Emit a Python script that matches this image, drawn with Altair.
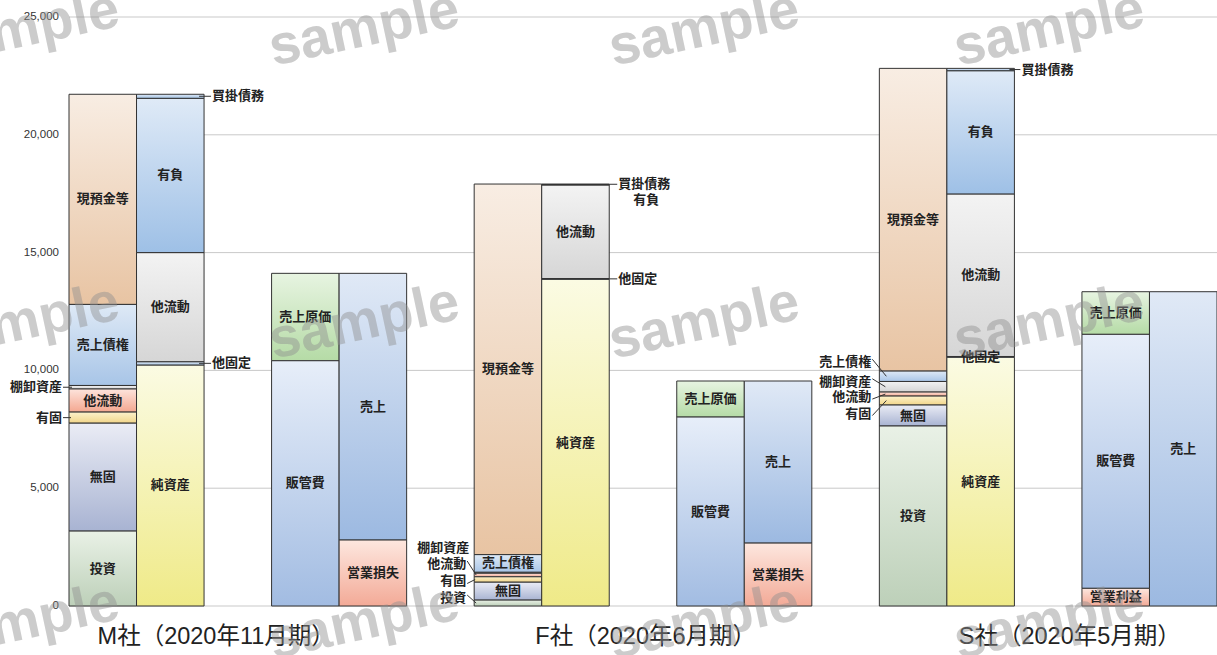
import altair as alt
import pandas as pd

# ---- figures (百万円) ----
ASSET_ITEMS = ["投資", "無固", "有固", "他流動", "棚卸資産", "売上債権", "現預金等"]
LIAB_ITEMS = ["純資産", "他固定", "他流動", "有負", "買掛債務"]

M_ASSETS = [3180, 4580, 470, 980, 150, 3440, 8920]
M_LIABS = [10230, 140, 4630, 6550, 170]
F_ASSETS = [250, 760, 230, 150, 40, 750, 15730]
F_LIABS = [13870, 30, 3970, 20, 20]
S_ASSETS = [7640, 890, 380, 170, 450, 440, 12850]
S_LIABS = [10560, 30, 6900, 5230, 100]

LOSS_COST_ITEMS = ["販管費", "売上原価"]
LOSS_REV_ITEMS = ["営業損失", "売上"]
PROFIT_COST_ITEMS = ["営業利益", "販管費", "売上原価"]
PROFIT_REV_ITEMS = ["売上"]

M_COSTS = [10410, 3710]
M_REVS = [2800, 11320]
F_COSTS = [8020, 1530]
F_REVS = [2670, 6880]
S_COSTS = [750, 10780, 1810]
S_REVS = [13340]

COMPANIES = ["M社（2020年11月期）", "F社（2020年6月期）", "S社（2020年5月期）"]
COMPANY_LABEL_X = [2.18, 8.54, 14.82]

Y_TICKS = [0, 5000, 10000, 15000, 20000, 25000]

# ---- layout ----
PLOT_W, PLOT_H = 1148, 589
X_MAX, Y_MAX = 17, 25000
PX_X = PLOT_W / X_MAX
U_Y = Y_MAX / PLOT_H

# (bar id, left slot, items, values, kind)
BARS = [
    ("M_BS_L", 0, ASSET_ITEMS, M_ASSETS, "A"),
    ("M_BS_R", 1, LIAB_ITEMS, M_LIABS, "L"),
    ("M_PL_L", 3, LOSS_COST_ITEMS, M_COSTS, "P"),
    ("M_PL_R", 4, LOSS_REV_ITEMS, M_REVS, "P"),
    ("F_BS_L", 6, ASSET_ITEMS, F_ASSETS, "A"),
    ("F_BS_R", 7, LIAB_ITEMS, F_LIABS, "L"),
    ("F_PL_L", 9, LOSS_COST_ITEMS, F_COSTS, "P"),
    ("F_PL_R", 10, LOSS_REV_ITEMS, F_REVS, "P"),
    ("S_BS_L", 12, ASSET_ITEMS, S_ASSETS, "A"),
    ("S_BS_R", 13, LIAB_ITEMS, S_LIABS, "L"),
    ("S_PL_L", 15, PROFIT_COST_ITEMS, S_COSTS, "P"),
    ("S_PL_R", 16, PROFIT_REV_ITEMS, S_REVS, "P"),
]

# call-out labels for thin segments: bar, item, dx px, dy px, leader, leader inset px
CALLOUTS = [
    ("M_BS_L", "有固", -7, 0, True, 2),
    ("M_BS_L", "棚卸資産", -7, 0, True, 3),
    ("M_BS_R", "他固定", 8, 0, True, 5),
    ("M_BS_R", "買掛債務", 8, 0, True, 5),
    ("F_BS_L", "投資", -8, -5, True, 2),
    ("F_BS_L", "有固", -8, 2, True, 1),
    ("F_BS_L", "他流動", -8, -11, True, 2),
    ("F_BS_L", "棚卸資産", -5, -25, False, 0),
    ("F_BS_R", "買掛債務", 9, 0, True, 0),
    ("F_BS_R", "有負", 24, 15, False, 0),
    ("F_BS_R", "他固定", 9, 0, True, 0),
    ("S_BS_L", "売上債権", -8, -14, True, 7),
    ("S_BS_L", "棚卸資産", -8, -5, True, 6),
    ("S_BS_L", "他流動", -8, 3, True, 6),
    ("S_BS_L", "有固", -8, 13, True, 7),
    ("S_BS_R", "買掛債務", 7, 0, True, 5),
]

GRADIENTS = {
    "現預金等": ("#f8ede3", "#e8c4a3"),
    "売上債権": ("#dee9f6", "#a8c5e7"),
    "棚卸資産": ("#f2f2f2", "#d4d4d4"),
    "他流動A": ("#fde4dc", "#f4a790"),
    "有固": ("#fcf2cc", "#f1d589"),
    "無固": ("#eaecf5", "#a8b3d2"),
    "投資": ("#e9f1e6", "#bdd0b9"),
    "純資産": ("#fbfbe3", "#efea88"),
    "他固定": ("#dfe9f5", "#a9c4e3"),
    "他流動L": ("#f3f3f3", "#d6d6d6"),
    "有負": ("#dfeaf7", "#9ec0e6"),
    "買掛債務": ("#dfeaf7", "#a3c3e6"),
    "売上原価": ("#e7f4e1", "#b5dba6"),
    "販管費": ("#e7eef9", "#a2bce2"),
    "売上": ("#e0e9f6", "#9cb9e1"),
    "営業損益": ("#fde7df", "#f3aa97"),
}


def fill_key(kind, item):
    if item == "他流動":
        return item + kind
    if item in ("営業損失", "営業利益"):
        return "営業損益"
    return item


seg_rows = []
for bar_id, x0, items, vals, kind in BARS:
    base = 0
    for it, v in zip(items, vals):
        seg_rows.append(dict(bar=bar_id, item=it, key=fill_key(kind, it),
                             x=x0, x2=x0 + 1, y=base, y2=base + v,
                             mid=base + v / 2))
        base += v
seg = pd.DataFrame(seg_rows)

outside = {(b, i) for b, i, *_ in CALLOUTS}
inside = seg[[(b, i) not in outside for b, i in zip(seg["bar"], seg["item"])]].copy()
inside["cx"] = inside["x"] + 0.5

lab_rows, lead_rows = [], []
for b, it, dx, dy, leader, inset in CALLOUTS:
    r = seg[(seg["bar"] == b) & (seg["item"] == it)].iloc[0]
    left = dx < 0
    edge = r["x"] if left else r["x2"]
    lx = edge + dx / PX_X
    ly = r["mid"] - dy * U_Y
    lab_rows.append(dict(text=it, x=lx, y=ly, align="right" if left else "left"))
    if leader:
        sy = dy - (3 if dy < 0 else (-2 if dy > 0 else 0))
        sx = dx + (1 if left else -1)
        lead_rows.append(dict(
            x=edge + sx / PX_X, y=r["mid"] - sy * U_Y,
            x2=edge + (inset if left else -inset) / PX_X, y2=r["mid"]))
labels = pd.DataFrame(lab_rows)
leaders = pd.DataFrame(lead_rows)

companies = pd.DataFrame(dict(name=COMPANIES, x=COMPANY_LABEL_X,
                              y=[-31 * U_Y] * 3))

# value gridlines and their labels (drawn as marks on the shared scales)
ticks = pd.DataFrame(dict(v=Y_TICKS, x=0, x2=X_MAX, lx=-10 / PX_X,
                          label=[f"{v:,}" for v in Y_TICKS]))

xs = alt.Scale(domain=[0, X_MAX], nice=False, zero=False)
ys = alt.Scale(domain=[0, Y_MAX], nice=False)


def xq(field):
    return alt.X(field, type="quantitative", scale=xs, axis=None)


def yq(field):
    return alt.Y(field, type="quantitative", scale=ys, axis=None)


TEXT_FONT = "Noto Sans CJK JP"

grid = alt.Chart(ticks).mark_rule(color="#c9c9c9", strokeWidth=1).encode(
    x=xq("x"), x2="x2:Q", y=yq("v"))
tick_labels = alt.Chart(ticks).mark_text(
    font="Liberation Sans", fontSize=11.5, color="#333333",
    align="right", baseline="middle"
).encode(x=xq("lx"), y=yq("v"), text="label:N")

layers = []
for key, (top, bottom) in GRADIENTS.items():
    grad = alt.LinearGradient(
        gradient="linear", x1=0, y1=0, x2=0, y2=1,
        stops=[alt.GradientStop(color=top, offset=0),
               alt.GradientStop(color=bottom, offset=1)])
    layers.append(
        alt.Chart(seg[seg["key"] == key]).mark_rect(
            fill=grad, stroke="#333333", strokeWidth=1
        ).encode(x=xq("x"), x2="x2:Q", y=yq("y"), y2="y2:Q")
    )

inside_text = alt.Chart(inside).mark_text(
    font=TEXT_FONT, fontSize=13, fontWeight="bold", color="#222222",
    baseline="middle", align="center"
).encode(x=xq("cx"), y=yq("mid"), text="item:N")

lead = alt.Chart(leaders).mark_rule(color="#333333", strokeWidth=1).encode(
    x=xq("x"), x2="x2:Q", y=yq("y"), y2="y2:Q")

out_text_layers = []
for al in ("left", "right"):
    out_text_layers.append(
        alt.Chart(labels[labels["align"] == al]).mark_text(
            font=TEXT_FONT, fontSize=13, fontWeight="bold", color="#222222",
            baseline="middle", align=al
        ).encode(x=xq("x"), y=yq("y"), text="text:N")
    )

company_text = alt.Chart(companies).mark_text(
    font="Liberation Sans, Noto Sans CJK JP", fontSize=23.5, color="#222222",
    baseline="middle", align="center"
).encode(x=xq("x"), y=yq("y"), text="name:N")

# faint "sample" stamp tiled over the plot (pixel positions inside the plot area)
WM_X = [-45, 295, 635, 980]
WM_Y = [12, 305, 605]
wm = pd.DataFrame([dict(px=x, py=y, t="sample") for y in WM_Y for x in WM_X])
watermark = alt.Chart(wm).mark_text(
    font="Liberation Sans", fontSize=56, fontWeight="bold", color="#909090",
    opacity=0.45, angle=348, baseline="middle", align="center"
).encode(
    x=alt.X("px:Q", scale=None, axis=None),
    y=alt.Y("py:Q", scale=None, axis=None),
    text="t:N",
)

chart = alt.layer(
    grid, tick_labels, *layers, lead, inside_text, *out_text_layers,
    company_text, watermark
).properties(
    width=PLOT_W, height=PLOT_H,
    padding={"left": 69, "top": 17, "right": 0, "bottom": 49},
    autosize=alt.AutoSizeParams(type="none"),
    background="white",
    view=alt.ViewBackground(stroke="transparent", strokeOpacity=0),
).configure_view(stroke="transparent", strokeOpacity=0, strokeWidth=0)

chart.save("out.html", embed_options={"renderer": "svg", "actions": False})
